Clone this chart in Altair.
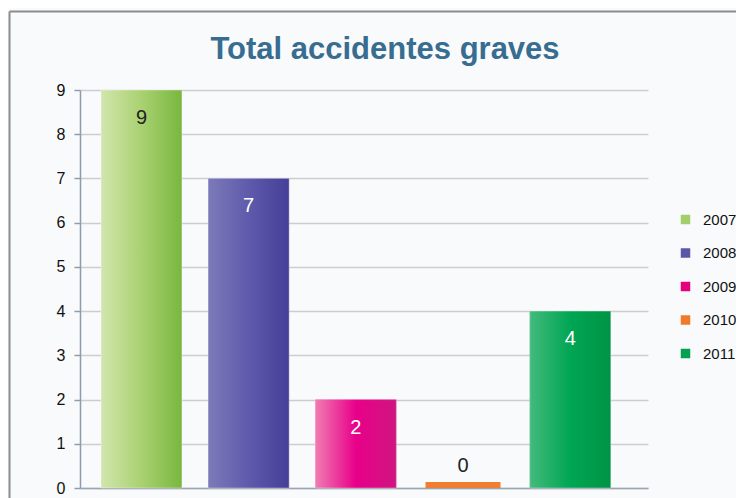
import altair as alt
import pandas as pd

years = ["2007", "2008", "2009", "2010", "2011"]
accidents = [9, 7, 2, 0, 4]
legend_colors = ["#a3cf6a", "#5b56a8", "#e5007e", "#f07a2a", "#00a151"]
gradient_stops = [
    ["#d2e6ad", "#a9d171", "#79b73f"],
    ["#7d7aba", "#5f5aab", "#443f98"],
    ["#f07cb2", "#e8008a", "#cf157f"],
    ["#f7a15c", "#ef7d32", "#dd6424"],
    ["#43ba7c", "#00a653", "#009346"],
]
dark_label_years = ["2007", "2010"]
title_text = "Total accidentes graves"

df = pd.DataFrame({"year": years, "value": accidents})


def grad(stops):
    n = len(stops)
    return {
        "gradient": "linear",
        "x1": 0, "x2": 1, "y1": 0, "y2": 0,
        "stops": [{"offset": i / (n - 1), "color": c} for i, c in enumerate(stops)],
    }


x_enc = alt.X(
    "year:N",
    scale=alt.Scale(domain=years, paddingInner=0.245, paddingOuter=0.272, align=0.36),
    axis=alt.Axis(labels=False, ticks=False, title=None, grid=False,
                  domainColor="#9aa5b0", domainWidth=1.5),
)
y_enc = alt.Y(
    "value:Q",
    scale=alt.Scale(domain=[0, 9], nice=False),
    axis=alt.Axis(values=list(range(10)), title=None, grid=True,
                  gridColor="#cdcdcd", gridWidth=1.5,
                  domainColor="#8d9db0", domainWidth=1.5,
                  tickColor="#8d9db0", tickSize=6, tickWidth=1.5,
                  labelPadding=9, labelFontSize=16, labelColor="#111111",
                  labelFont="Liberation Sans"),
)

base = alt.Chart(df).encode(x=x_enc, y=y_enc)

legend_layer = base.mark_bar().encode(
    color=alt.Color(
        "year:N",
        scale=alt.Scale(domain=years, range=legend_colors),
        legend=alt.Legend(title=None, orient="none", legendX=598, legendY=122,
                          symbolType="square", symbolSize=90, symbolStrokeWidth=0,
                          labelFontSize=15, labelColor="#111111",
                          labelFont="Liberation Sans", rowPadding=17.5,
                          labelOffset=10),
    )
)

grad_layers = []
for yr, stops in zip(years, gradient_stops):
    f = base.transform_filter(alt.datum.year == yr)
    if yr == "2010":
        grad_layers.append(
            f.mark_bar(color=stops[1], stroke=stops[1], strokeWidth=6, yOffset=-3, width=75)
        )
    else:
        grad_layers.append(
            f.mark_bar(color=grad(stops), stroke="#ffffff", strokeOpacity=0.35, strokeWidth=1)
        )

cond_dark = " || ".join(f"datum.year == '{y}'" for y in dark_label_years)

text_main = base.transform_filter("datum.value > 0").mark_text(
    baseline="middle", dy=28, fontSize=20, font="Liberation Sans"
).encode(
    text="value:Q",
    color=alt.condition(cond_dark, alt.value("#222222"), alt.value("white")),
)
text_zero = base.transform_filter("datum.value == 0").mark_text(
    baseline="middle", dy=-22, fontSize=20, font="Liberation Sans", color="#222222"
).encode(text="value:Q")

frame_top = alt.Chart(alt.Data(values=[{}])).mark_rule(
    color="#8c8c8c", strokeWidth=2
).encode(x=alt.value(-70.5), x2=alt.value(760), y=alt.value(-78.5))
frame_left = alt.Chart(alt.Data(values=[{}])).mark_rule(
    color="#8c8c8c", strokeWidth=2
).encode(x=alt.value(-70.5), y=alt.value(-78.5), y2=alt.value(520))

chart = alt.layer(
    legend_layer, *grad_layers, text_main, text_zero, frame_top, frame_left
).properties(
    width=568,
    height=398,
    title=alt.TitleParams(
        title_text, font="Liberation Sans", fontSize=31, fontWeight="bold",
        color="#376d90", anchor="middle", frame="group", dx=21, offset=0, dy=79,
        baseline="alphabetic",
    ),
    autosize=alt.AutoSizeParams(type="none"),
    padding={"left": 72, "top": 82, "right": 88, "bottom": 10},
    background="#f9fafc",
).configure_view(stroke=None)

chart.save("out.html", embed_options={"renderer": "svg", "actions": False})
